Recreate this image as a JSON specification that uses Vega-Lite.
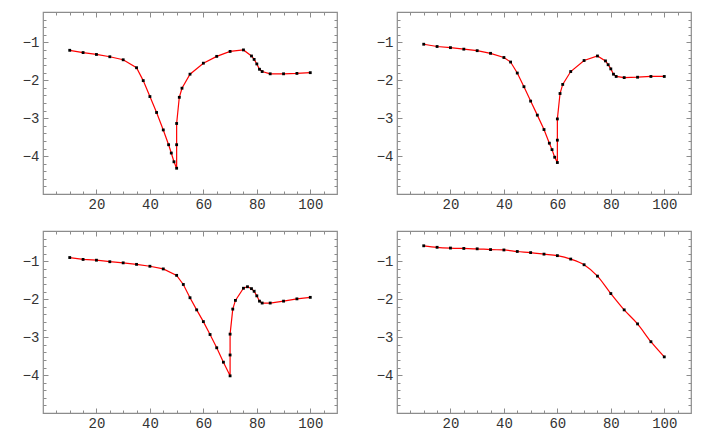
{
  "$schema": "https://vega.github.io/schema/vega-lite/v6.json",
  "padding": {"left": 21, "top": 10, "right": 5, "bottom": 5},
  "background": "white",
  "config": {
    "view": {"stroke": "#8c8c8c", "strokeWidth": 1.2},
    "axis": {"grid": false, "title": null, "labelFont": "Liberation Mono", "labelFontSize": 14, "labelColor": "#333333", "tickColor": "#8c8c8c", "tickWidth": 1, "domain": false}
  },
  "datasets": {
    "p1": [
      {"x": 10, "y": -1.21}, {"x": 15, "y": -1.27}, {"x": 20, "y": -1.32}, {"x": 25, "y": -1.38}, {"x": 30, "y": -1.46},
      {"x": 35, "y": -1.67}, {"x": 37.5, "y": -2.01}, {"x": 40, "y": -2.43}, {"x": 42.5, "y": -2.85}, {"x": 45, "y": -3.31},
      {"x": 47, "y": -3.7}, {"x": 48, "y": -3.92}, {"x": 49, "y": -4.15}, {"x": 50, "y": -4.32}, {"x": 50, "y": -3.7},
      {"x": 50, "y": -3.14}, {"x": 51, "y": -2.45}, {"x": 52, "y": -2.21}, {"x": 55, "y": -1.84}, {"x": 60, "y": -1.55},
      {"x": 65, "y": -1.37}, {"x": 70, "y": -1.24}, {"x": 75, "y": -1.2}, {"x": 78, "y": -1.36}, {"x": 79, "y": -1.45},
      {"x": 80, "y": -1.57}, {"x": 81, "y": -1.71}, {"x": 82, "y": -1.77}, {"x": 85, "y": -1.83}, {"x": 90, "y": -1.83},
      {"x": 95, "y": -1.82}, {"x": 100, "y": -1.8}
    ],
    "p2": [
      {"x": 10, "y": -1.05}, {"x": 15, "y": -1.11}, {"x": 20, "y": -1.14}, {"x": 25, "y": -1.18}, {"x": 30, "y": -1.22},
      {"x": 35, "y": -1.29}, {"x": 40, "y": -1.4}, {"x": 42.5, "y": -1.52}, {"x": 45, "y": -1.81}, {"x": 47.5, "y": -2.17},
      {"x": 50, "y": -2.55}, {"x": 52.5, "y": -2.92}, {"x": 55, "y": -3.3}, {"x": 57, "y": -3.66}, {"x": 58, "y": -3.83},
      {"x": 59, "y": -4.03}, {"x": 60, "y": -4.17}, {"x": 60, "y": -3.58}, {"x": 60, "y": -3.02}, {"x": 61, "y": -2.35},
      {"x": 62, "y": -2.11}, {"x": 65, "y": -1.77}, {"x": 70, "y": -1.48}, {"x": 75, "y": -1.36}, {"x": 78, "y": -1.49},
      {"x": 79, "y": -1.59}, {"x": 80, "y": -1.7}, {"x": 81, "y": -1.84}, {"x": 82, "y": -1.9}, {"x": 85, "y": -1.93},
      {"x": 90, "y": -1.92}, {"x": 95, "y": -1.9}, {"x": 100, "y": -1.9}
    ],
    "p3": [
      {"x": 10, "y": -0.9}, {"x": 15, "y": -0.95}, {"x": 20, "y": -0.97}, {"x": 25, "y": -1.01}, {"x": 30, "y": -1.04},
      {"x": 35, "y": -1.08}, {"x": 40, "y": -1.13}, {"x": 45, "y": -1.2}, {"x": 50, "y": -1.37}, {"x": 52.5, "y": -1.61},
      {"x": 55, "y": -1.96}, {"x": 57.5, "y": -2.28}, {"x": 60, "y": -2.59}, {"x": 62.5, "y": -2.93}, {"x": 65, "y": -3.28},
      {"x": 67.5, "y": -3.66}, {"x": 70, "y": -4.02}, {"x": 70, "y": -3.47}, {"x": 70, "y": -2.92}, {"x": 71, "y": -2.26},
      {"x": 72, "y": -2.03}, {"x": 75, "y": -1.71}, {"x": 76.5, "y": -1.67}, {"x": 78, "y": -1.72}, {"x": 79, "y": -1.79},
      {"x": 80, "y": -1.91}, {"x": 81, "y": -2.05}, {"x": 82, "y": -2.1}, {"x": 85, "y": -2.1}, {"x": 90, "y": -2.05},
      {"x": 95, "y": -1.99}, {"x": 100, "y": -1.95}
    ],
    "p4": [
      {"x": 10, "y": -0.59}, {"x": 15, "y": -0.63}, {"x": 20, "y": -0.65}, {"x": 25, "y": -0.66}, {"x": 30, "y": -0.67},
      {"x": 35, "y": -0.69}, {"x": 40, "y": -0.7}, {"x": 45, "y": -0.74}, {"x": 50, "y": -0.77}, {"x": 55, "y": -0.81},
      {"x": 60, "y": -0.85}, {"x": 65, "y": -0.94}, {"x": 70, "y": -1.09}, {"x": 75, "y": -1.39}, {"x": 80, "y": -1.85},
      {"x": 85, "y": -2.28}, {"x": 90, "y": -2.65}, {"x": 95, "y": -3.12}, {"x": 100, "y": -3.52}
    ]
  },
  "bounds": "flush",
  "columns": 2,
  "spacing": {"row": 37, "column": 60},
  "concat": [
    {
      "width": 294, "height": 182,
      "data": {"name": "p1"},
      "resolve": {"axis": {"x": "independent", "y": "independent"}},
      "layer": [
        {"mark": {"type": "line", "color": "#ff0000", "strokeWidth": 1.2},
         "encoding": {
           "x": {"field": "x", "type": "quantitative", "scale": {"domain": [0, 110], "nice": false, "zero": false}, "axis": {"orient": "bottom", "values": [20, 40, 60, 80, 100], "ticks": false, "labelPadding": 3}},
           "y": {"field": "y", "type": "quantitative", "scale": {"domain": [-5, -0.2], "nice": false, "zero": false}, "axis": {"orient": "left", "values": [-4, -3, -2, -1], "ticks": false, "labelPadding": 4}}}},
        {"mark": {"type": "point", "shape": "square", "filled": true, "color": "#000000", "size": 8, "opacity": 1},
         "encoding": {
           "x": {"field": "x", "type": "quantitative", "axis": {"orient": "bottom", "labels": false, "values": [5,10,15,20,25,30,35,40,45,50,55,60,65,70,75,80,85,90,95,100,105], "tickSize": {"condition": {"test": "datum.value % 20 === 0", "value": -5}, "value": -3}}},
           "y": {"field": "y", "type": "quantitative", "axis": {"orient": "left", "labels": false, "values": [-4.8,-4.6,-4.4,-4.2,-4,-3.8,-3.6,-3.4,-3.2,-3,-2.8,-2.6,-2.4,-2.2,-2,-1.8,-1.6,-1.4,-1.2,-1,-0.8,-0.6,-0.4], "tickSize": {"condition": {"test": "abs(datum.value - round(datum.value)) < 0.01", "value": -5}, "value": -3}}}}},
        {"mark": {"type": "point", "opacity": 0},
         "encoding": {
           "x": {"field": "x", "type": "quantitative", "axis": {"orient": "top", "labels": false, "values": [5,10,15,20,25,30,35,40,45,50,55,60,65,70,75,80,85,90,95,100,105], "tickSize": {"condition": {"test": "datum.value % 20 === 0", "value": -5}, "value": -3}}},
           "y": {"field": "y", "type": "quantitative", "axis": {"orient": "right", "labels": false, "values": [-4.8,-4.6,-4.4,-4.2,-4,-3.8,-3.6,-3.4,-3.2,-3,-2.8,-2.6,-2.4,-2.2,-2,-1.8,-1.6,-1.4,-1.2,-1,-0.8,-0.6,-0.4], "tickSize": {"condition": {"test": "abs(datum.value - round(datum.value)) < 0.01", "value": -5}, "value": -3}}}}}
      ]
    },
    {
      "width": 294, "height": 182,
      "data": {"name": "p2"},
      "resolve": {"axis": {"x": "independent", "y": "independent"}},
      "layer": [
        {"mark": {"type": "line", "color": "#ff0000", "strokeWidth": 1.2},
         "encoding": {
           "x": {"field": "x", "type": "quantitative", "scale": {"domain": [0, 110], "nice": false, "zero": false}, "axis": {"orient": "bottom", "values": [20, 40, 60, 80, 100], "ticks": false, "labelPadding": 3}},
           "y": {"field": "y", "type": "quantitative", "scale": {"domain": [-5, -0.2], "nice": false, "zero": false}, "axis": {"orient": "left", "values": [-4, -3, -2, -1], "ticks": false, "labelPadding": 4}}}},
        {"mark": {"type": "point", "shape": "square", "filled": true, "color": "#000000", "size": 8, "opacity": 1},
         "encoding": {
           "x": {"field": "x", "type": "quantitative", "axis": {"orient": "bottom", "labels": false, "values": [5,10,15,20,25,30,35,40,45,50,55,60,65,70,75,80,85,90,95,100,105], "tickSize": {"condition": {"test": "datum.value % 20 === 0", "value": -5}, "value": -3}}},
           "y": {"field": "y", "type": "quantitative", "axis": {"orient": "left", "labels": false, "values": [-4.8,-4.6,-4.4,-4.2,-4,-3.8,-3.6,-3.4,-3.2,-3,-2.8,-2.6,-2.4,-2.2,-2,-1.8,-1.6,-1.4,-1.2,-1,-0.8,-0.6,-0.4], "tickSize": {"condition": {"test": "abs(datum.value - round(datum.value)) < 0.01", "value": -5}, "value": -3}}}}},
        {"mark": {"type": "point", "opacity": 0},
         "encoding": {
           "x": {"field": "x", "type": "quantitative", "axis": {"orient": "top", "labels": false, "values": [5,10,15,20,25,30,35,40,45,50,55,60,65,70,75,80,85,90,95,100,105], "tickSize": {"condition": {"test": "datum.value % 20 === 0", "value": -5}, "value": -3}}},
           "y": {"field": "y", "type": "quantitative", "axis": {"orient": "right", "labels": false, "values": [-4.8,-4.6,-4.4,-4.2,-4,-3.8,-3.6,-3.4,-3.2,-3,-2.8,-2.6,-2.4,-2.2,-2,-1.8,-1.6,-1.4,-1.2,-1,-0.8,-0.6,-0.4], "tickSize": {"condition": {"test": "abs(datum.value - round(datum.value)) < 0.01", "value": -5}, "value": -3}}}}}
      ]
    },
    {
      "width": 294, "height": 182,
      "data": {"name": "p3"},
      "resolve": {"axis": {"x": "independent", "y": "independent"}},
      "layer": [
        {"mark": {"type": "line", "color": "#ff0000", "strokeWidth": 1.2},
         "encoding": {
           "x": {"field": "x", "type": "quantitative", "scale": {"domain": [0, 110], "nice": false, "zero": false}, "axis": {"orient": "bottom", "values": [20, 40, 60, 80, 100], "ticks": false, "labelPadding": 3}},
           "y": {"field": "y", "type": "quantitative", "scale": {"domain": [-5, -0.2], "nice": false, "zero": false}, "axis": {"orient": "left", "values": [-4, -3, -2, -1], "ticks": false, "labelPadding": 4}}}},
        {"mark": {"type": "point", "shape": "square", "filled": true, "color": "#000000", "size": 8, "opacity": 1},
         "encoding": {
           "x": {"field": "x", "type": "quantitative", "axis": {"orient": "bottom", "labels": false, "values": [5,10,15,20,25,30,35,40,45,50,55,60,65,70,75,80,85,90,95,100,105], "tickSize": {"condition": {"test": "datum.value % 20 === 0", "value": -5}, "value": -3}}},
           "y": {"field": "y", "type": "quantitative", "axis": {"orient": "left", "labels": false, "values": [-4.8,-4.6,-4.4,-4.2,-4,-3.8,-3.6,-3.4,-3.2,-3,-2.8,-2.6,-2.4,-2.2,-2,-1.8,-1.6,-1.4,-1.2,-1,-0.8,-0.6,-0.4], "tickSize": {"condition": {"test": "abs(datum.value - round(datum.value)) < 0.01", "value": -5}, "value": -3}}}}},
        {"mark": {"type": "point", "opacity": 0},
         "encoding": {
           "x": {"field": "x", "type": "quantitative", "axis": {"orient": "top", "labels": false, "values": [5,10,15,20,25,30,35,40,45,50,55,60,65,70,75,80,85,90,95,100,105], "tickSize": {"condition": {"test": "datum.value % 20 === 0", "value": -5}, "value": -3}}},
           "y": {"field": "y", "type": "quantitative", "axis": {"orient": "right", "labels": false, "values": [-4.8,-4.6,-4.4,-4.2,-4,-3.8,-3.6,-3.4,-3.2,-3,-2.8,-2.6,-2.4,-2.2,-2,-1.8,-1.6,-1.4,-1.2,-1,-0.8,-0.6,-0.4], "tickSize": {"condition": {"test": "abs(datum.value - round(datum.value)) < 0.01", "value": -5}, "value": -3}}}}}
      ]
    },
    {
      "width": 294, "height": 182,
      "data": {"name": "p4"},
      "resolve": {"axis": {"x": "independent", "y": "independent"}},
      "layer": [
        {"mark": {"type": "line", "color": "#ff0000", "strokeWidth": 1.2, "interpolate": "monotone"},
         "encoding": {
           "x": {"field": "x", "type": "quantitative", "scale": {"domain": [0, 110], "nice": false, "zero": false}, "axis": {"orient": "bottom", "values": [20, 40, 60, 80, 100], "ticks": false, "labelPadding": 3}},
           "y": {"field": "y", "type": "quantitative", "scale": {"domain": [-5, -0.2], "nice": false, "zero": false}, "axis": {"orient": "left", "values": [-4, -3, -2, -1], "ticks": false, "labelPadding": 4}}}},
        {"mark": {"type": "point", "shape": "square", "filled": true, "color": "#000000", "size": 8, "opacity": 1},
         "encoding": {
           "x": {"field": "x", "type": "quantitative", "axis": {"orient": "bottom", "labels": false, "values": [5,10,15,20,25,30,35,40,45,50,55,60,65,70,75,80,85,90,95,100,105], "tickSize": {"condition": {"test": "datum.value % 20 === 0", "value": -5}, "value": -3}}},
           "y": {"field": "y", "type": "quantitative", "axis": {"orient": "left", "labels": false, "values": [-4.8,-4.6,-4.4,-4.2,-4,-3.8,-3.6,-3.4,-3.2,-3,-2.8,-2.6,-2.4,-2.2,-2,-1.8,-1.6,-1.4,-1.2,-1,-0.8,-0.6,-0.4], "tickSize": {"condition": {"test": "abs(datum.value - round(datum.value)) < 0.01", "value": -5}, "value": -3}}}}},
        {"mark": {"type": "point", "opacity": 0},
         "encoding": {
           "x": {"field": "x", "type": "quantitative", "axis": {"orient": "top", "labels": false, "values": [5,10,15,20,25,30,35,40,45,50,55,60,65,70,75,80,85,90,95,100,105], "tickSize": {"condition": {"test": "datum.value % 20 === 0", "value": -5}, "value": -3}}},
           "y": {"field": "y", "type": "quantitative", "axis": {"orient": "right", "labels": false, "values": [-4.8,-4.6,-4.4,-4.2,-4,-3.8,-3.6,-3.4,-3.2,-3,-2.8,-2.6,-2.4,-2.2,-2,-1.8,-1.6,-1.4,-1.2,-1,-0.8,-0.6,-0.4], "tickSize": {"condition": {"test": "abs(datum.value - round(datum.value)) < 0.01", "value": -5}, "value": -3}}}}}
      ]
    }
  ]
}
